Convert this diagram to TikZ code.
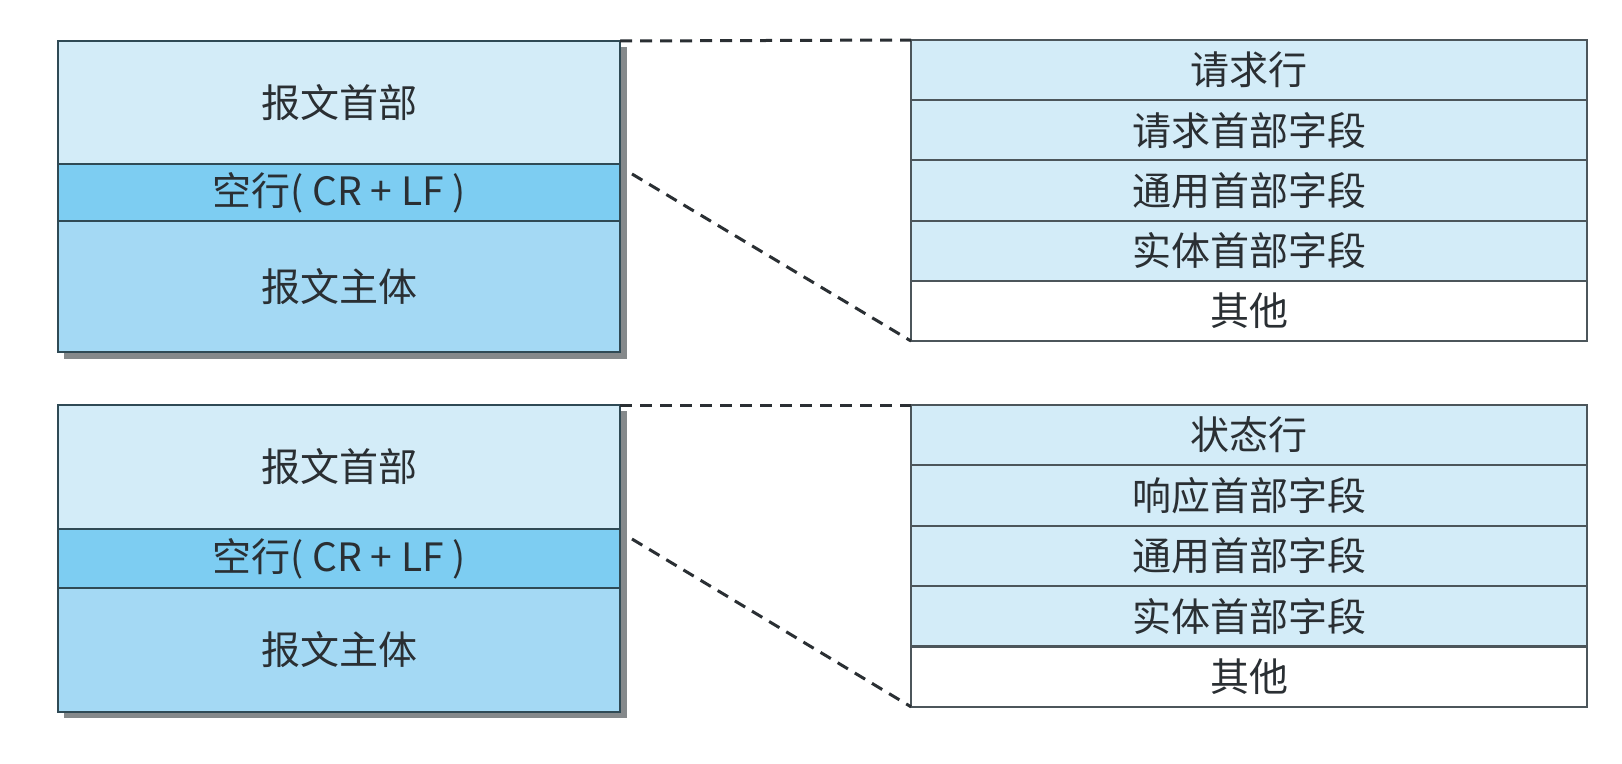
\documentclass[tikz,border=0pt]{standalone}
\usepackage{fontspec}
\newfontfamily\cjk{Noto Sans CJK SC}
\definecolor{hdrc}{HTML}{D3ECF8}
\definecolor{blankc}{HTML}{7DCDF2}
\definecolor{bodyc}{HTML}{A4D9F4}
\definecolor{rowc}{HTML}{D3ECF8}
\definecolor{lborder}{HTML}{2F4A55}
\definecolor{rborder}{HTML}{4C565B}
\definecolor{txt}{HTML}{2A2F33}
\definecolor{shadowc}{HTML}{85898B}
\begin{document}
\begin{tikzpicture}[x=1pt,y=-1pt,
  cell/.style={rectangle,draw,line width=2pt,inner sep=0pt,outer sep=0pt,anchor=north west,
    font=\cjk\fontsize{39}{44}\selectfont,text=txt},
  lcell/.style={cell,draw=lborder,minimum width=562pt},
  rcell/.style={cell,draw=rborder,minimum width=676pt,minimum height=60.2pt},
  conn/.style={dashed,dash pattern=on 12pt off 8pt,line width=3pt,draw=txt},
  shadowbox/.style={fill=shadowc,draw=none}]
\useasboundingbox[fill=white] (0,0) rectangle (1622,763);

% ---------- top group ----------
\fill[shadowbox] (64,47) rectangle (627,359);
\node[lcell,fill=hdrc,minimum height=123pt] (h1) at (58,41) {\raisebox{-5pt}{报文首部}};
\node[lcell,fill=blankc,minimum height=57pt] (b1) at (58,164) {空行( CR + LF )};
\node[lcell,fill=bodyc,minimum height=131pt] (m1) at (58,221) {报文主体};

\node[rcell,fill=rowc] (r11) at (911,40) {请求行};
\node[rcell,fill=rowc] (r12) at (911,100.2) {请求首部字段};
\node[rcell,fill=rowc] (r13) at (911,160.4) {通用首部字段};
\node[rcell,fill=rowc] (r14) at (911,220.6) {实体首部字段};
\node[rcell,fill=white] (r15) at (911,280.8) {其他};

\coordinate (d1) at ([shift={(12,10)}]b1.north east);
\draw[conn] (h1.north east) -- (r11.north west);
\draw[conn] (d1) -- (r15.south west);

% ---------- bottom group ----------
\fill[shadowbox] (64,411) rectangle (627,718);
\node[lcell,fill=hdrc,minimum height=124pt] (h2) at (58,405) {\raisebox{-5pt}{报文首部}};
\node[lcell,fill=blankc,minimum height=59pt] (b2) at (58,529) {空行( CR + LF )};
\node[lcell,fill=bodyc,minimum height=124pt] (m2) at (58,588) {报文主体};

\node[rcell,fill=rowc] (r21) at (911,405) {状态行};
\node[rcell,fill=rowc] (r22) at (911,465.4) {响应首部字段};
\node[rcell,fill=rowc] (r23) at (911,525.8) {通用首部字段};
\node[rcell,fill=rowc] (r24) at (911,586.2) {实体首部字段};
\node[rcell,fill=white] (r25) at (911,646.6) {其他};

\coordinate (d2) at ([shift={(12,10)}]b2.north east);
\draw[conn] (h2.north east) -- (r21.north west);
\draw[conn] (d2) -- (r25.south west);
\end{tikzpicture}
\end{document}
